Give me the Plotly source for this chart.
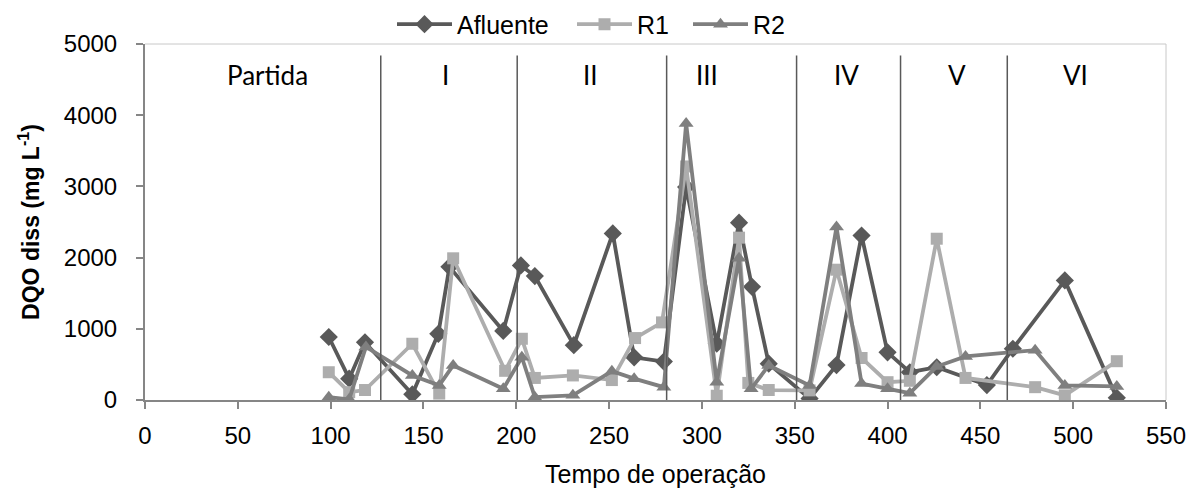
import plotly.graph_objects as go

# Dissolved COD over operating time (days)
afluente_x = [99, 110, 118.5, 144, 158, 164, 193, 202.5, 210, 231, 252, 263.5, 279.5, 291.5,
              308, 320, 327, 336, 358, 372.5, 386, 400, 412, 426.5, 453.5, 467.5, 495.5, 523.5]
afluente_y = [885, 300, 810, 80, 930, 1870, 970, 1890, 1740, 770, 2340, 600, 540, 2990,
              790, 2490, 1590, 510, 20, 490, 2310, 670, 390, 460, 210, 720, 1680, 30]

r1_x = [99, 110, 118.5, 144, 158.5, 166, 194, 203, 210, 230.5, 251.5, 264, 278.5, 291.5,
        308, 320, 325, 336, 358, 372.5, 386, 400, 412, 426.5, 442, 479.5, 495.5, 523.5]
r1_y = [390, 110, 140, 790, 90, 1990, 410, 860, 310, 345, 280, 870, 1090, 3280,
        60, 2280, 240, 140, 135, 1830, 590, 250, 270, 2265, 310, 180, 65, 545]

r2_x = [99, 110, 119, 144, 158.5, 166, 193, 203, 210, 230.5, 251.5, 263.5, 279.5, 291.5,
        308, 320, 326.5, 336, 358, 372.5, 386, 400, 412, 426.5, 442, 479.5, 495.5, 523.5]
r2_y = [40, 10, 745, 345, 205, 485, 157, 600, 40, 65, 405, 300, 180, 3885,
        250, 1990, 157, 485, 205, 2430, 230, 157, 96, 470, 612, 700, 205, 190]

# Operating phases: boundaries and label positions
phase_bounds = [127, 200.5, 281, 351, 407, 464.5]
phase_names = ["Partida", "I", "II", "III", "IV", "V", "VI"]
phase_label_x = [66, 162, 240, 303, 378, 437.5, 501.5]

x_ticks = list(range(0, 551, 50))
y_ticks = list(range(0, 5001, 1000))

AX = "#868686"
FONT = "Liberation Sans, Arial, sans-serif"

fig = go.Figure()

series = [
    ("Afluente", afluente_x, afluente_y, "#595959", "diamond", 14, "legend"),
    ("R1", r1_x, r1_y, "#ADADAD", "square", 12, "legend2"),
    ("R2", r2_x, r2_y, "#7F7F7F", "triangle-up", 13, "legend3"),
]
for name, xs, ys, col, sym, sz, lg in series:
    fig.add_trace(go.Scatter(
        x=xs, y=ys, name=name, mode="lines+markers", legend=lg,
        line=dict(color=col, width=3.8),
        marker=dict(symbol=sym, size=sz, color=col, line=dict(width=0)),
    ))

# Phase separators
for b in phase_bounds:
    fig.add_shape(type="line", xref="x", yref="y", x0=b, x1=b, y0=0, y1=4840,
                  line=dict(color="#595959", width=1.5), layer="above")

# Phase labels
for nm, lx in zip(phase_names, phase_label_x):
    fig.add_annotation(x=lx, y=4560, xref="x", yref="y", text=nm, showarrow=False,
                       font=dict(family="Lato, Open Sans, sans-serif", size=26, color="#000000"))

# Light border on the top and right of the plotting area
fig.add_shape(type="line", xref="paper", yref="paper", x0=0, x1=1, y0=1, y1=1,
              line=dict(color="#C8C8C8", width=1), layer="below")
fig.add_shape(type="line", xref="paper", yref="paper", x0=1, x1=1, y0=0, y1=1,
              line=dict(color="#C8C8C8", width=1), layer="below")

# One legend box per series, placed along the top edge
legend_common = dict(orientation="h", y=1.055, xanchor="left", yanchor="middle",
                     font=dict(family=FONT, size=25), itemwidth=55,
                     bgcolor="rgba(0,0,0,0)")
pw = 1191 - 145 - 25
leg_left = [392, 572, 688]

fig.update_layout(
    width=1191, height=493,
    margin=dict(l=145, r=25, t=44, b=93, autoexpand=False),
    paper_bgcolor="white", plot_bgcolor="white",
    font=dict(family=FONT, size=24, color="#000000"),
    showlegend=True,
    legend=dict(x=(leg_left[0] - 145) / pw, **legend_common),
    legend2=dict(x=(leg_left[1] - 145) / pw, **legend_common),
    legend3=dict(x=(leg_left[2] - 145) / pw, **legend_common),
    xaxis=dict(range=[0, 550], tickvals=x_ticks, ticks="outside", ticklen=7,
               tickcolor=AX, tickwidth=1.5, showline=True, linecolor=AX, linewidth=2,
               showgrid=False, zeroline=False, tickfont=dict(size=24),
               ticklabelstandoff=6,
               title=dict(text="Tempo de operação", font=dict(size=25), standoff=18)),
    yaxis=dict(range=[0, 5000], tickvals=y_ticks, ticks="outside", ticklen=7,
               tickcolor=AX, tickwidth=1.5, showline=True, linecolor=AX, linewidth=2,
               showgrid=False, zeroline=False, tickfont=dict(size=24),
               ticklabelstandoff=14,
               title=dict(text="<b>DQO diss (mg L<sup>-1</sup>)</b>", font=dict(size=23),
                          standoff=18)),
)

fig.write_html("out.html")
